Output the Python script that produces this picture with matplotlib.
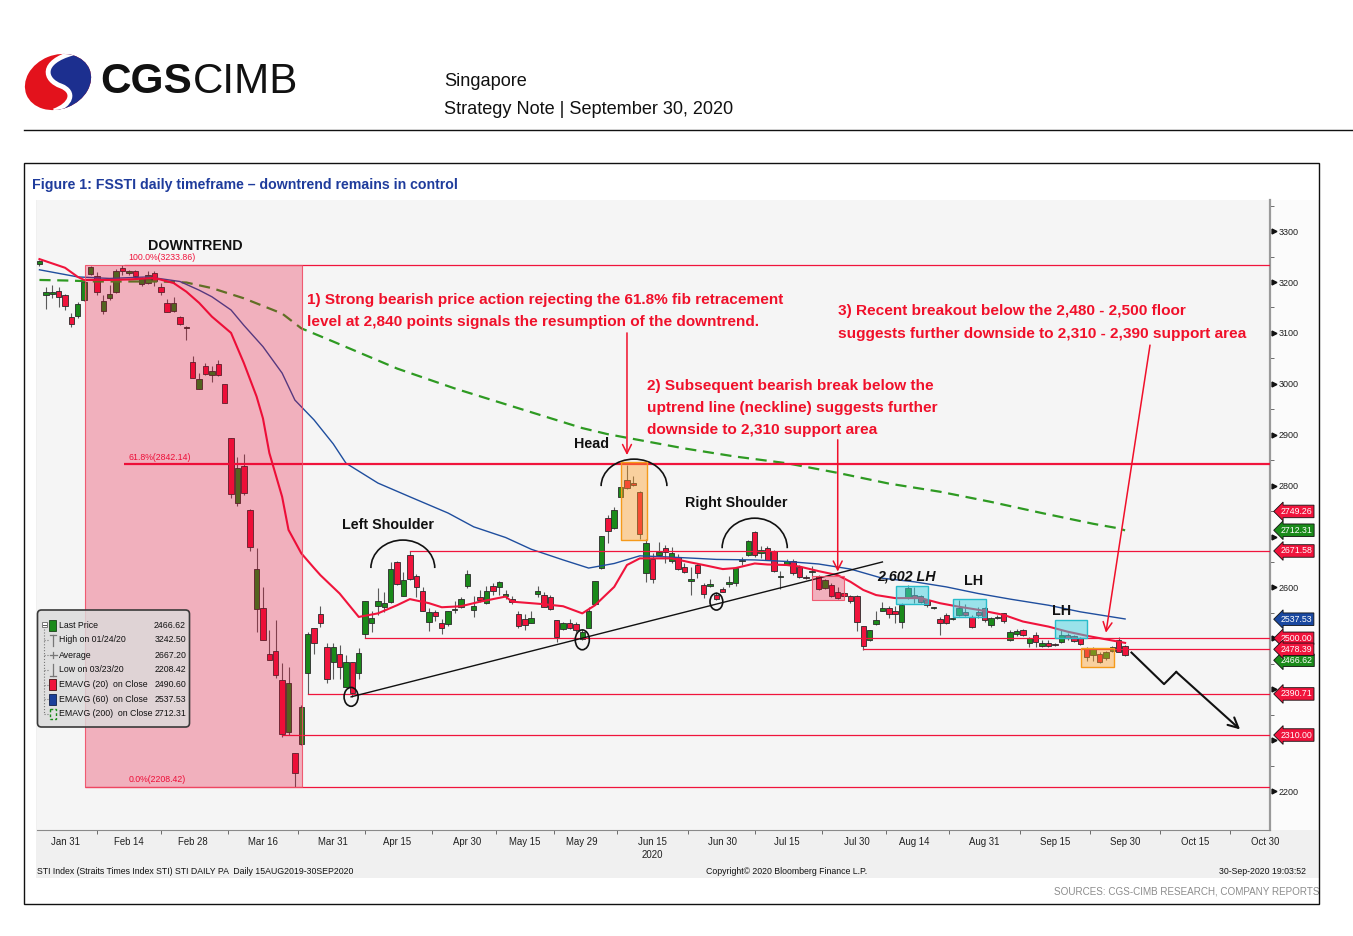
import numpy as np
import pandas as pd
import matplotlib
matplotlib.use("Agg")
import matplotlib.pyplot as plt
from matplotlib import font_manager as fm
from matplotlib.patches import Rectangle, Ellipse, Arc, FancyBboxPatch, PathPatch
from matplotlib.path import Path
from matplotlib.lines import Line2D
from matplotlib.transforms import Affine2D

W, H = 1353, 936

# SGX trading days 2020 (exchange holidays taken out)
holidays = ["2020-01-27", "2020-04-10", "2020-05-01", "2020-05-07",
            "2020-05-25", "2020-07-10", "2020-07-31", "2020-08-10"]
days = pd.bdate_range("2020-01-20", "2020-10-30")
days = days[~days.isin(pd.to_datetime(holidays))]

first_day = "01-24"   # first candle on screen, last one is 09-30

opens = [
    3236, 3174, 3177, 3182, 3174, 3131, 3133, 3165, 3215, 3212,
    3143, 3168, 3181, 3228, 3217, 3222, 3197, 3199, 3217, 3190,
    3159, 3144, 3132, 3110, 3042, 2989, 3034, 3017, 3038, 2999,
    2893, 2765, 2839, 2752, 2558, 2559, 2470, 2475, 2418, 2315,
    2274, 2292, 2431, 2520, 2548, 2482, 2454, 2469, 2405, 2453,
    2432, 2508, 2530, 2564, 2562, 2572, 2650, 2583, 2664, 2623,
    2593, 2533, 2551, 2531, 2528, 2555, 2561, 2602, 2556, 2582,
    2569, 2603, 2601, 2583, 2578, 2547, 2537, 2530, 2588, 2585,
    2582, 2536, 2518, 2530, 2528, 2498, 2520, 2567, 2638, 2736,
    2716, 2777, 2811, 2806, 2788, 2629, 2655, 2664, 2678, 2652,
    2659, 2641, 2612, 2645, 2605, 2603, 2585, 2596, 2606, 2608,
    2651, 2664, 2708, 2667, 2677, 2672, 2620, 2645, 2651, 2641,
    2621, 2630, 2622, 2598, 2605, 2591, 2589, 2583, 2583, 2524,
    2497, 2529, 2553, 2559, 2553, 2533, 2579, 2585, 2583, 2575,
    2559, 2537, 2545, 2538, 2546, 2551, 2541, 2551, 2559, 2526,
    2540, 2549, 2497, 2508, 2516, 2490, 2506, 2484, 2490, 2488,
    2493, 2506, 2504, 2500, 2479, 2467, 2469, 2461, 2476, 2497, 2484,
]
highs = [
    3243, 3191, 3195, 3190, 3176, 3139, 3161, 3201, 3232, 3220,
    3174, 3195, 3226, 3233, 3224, 3224, 3209, 3222, 3222, 3199,
    3166, 3171, 3134, 3113, 3054, 3021, 3040, 3034, 3046, 2999,
    2893, 2857, 2863, 2755, 2677, 2600, 2517, 2535, 2451, 2443,
    2274, 2368, 2513, 2520, 2564, 2490, 2490, 2486, 2467, 2453,
    2480, 2573, 2553, 2599, 2590, 2650, 2652, 2630, 2672, 2626,
    2600, 2559, 2555, 2537, 2553, 2574, 2581, 2634, 2583, 2594,
    2603, 2608, 2613, 2595, 2584, 2553, 2548, 2553, 2602, 2590,
    2585, 2536, 2533, 2537, 2533, 2518, 2562, 2613, 2701, 2742,
    2758, 2798, 2840, 2818, 2790, 2695, 2668, 2690, 2683, 2680,
    2665, 2648, 2641, 2647, 2608, 2617, 2590, 2601, 2622, 2641,
    2660, 2694, 2710, 2681, 2681, 2674, 2632, 2656, 2656, 2645,
    2624, 2643, 2624, 2616, 2608, 2601, 2590, 2585, 2585, 2524,
    2516, 2554, 2572, 2563, 2563, 2569, 2605, 2601, 2586, 2578,
    2561, 2542, 2549, 2541, 2575, 2567, 2545, 2562, 2562, 2542,
    2545, 2550, 2516, 2518, 2519, 2502, 2513, 2496, 2496, 2490,
    2519, 2510, 2506, 2503, 2482, 2482, 2474, 2476, 2484, 2503, 2487,
]
lows = [
    3232, 3146, 3168, 3150, 3145, 3112, 3130, 3163, 3213, 3174,
    3137, 3165, 3178, 3213, 3214, 3208, 3192, 3197, 3193, 3174,
    3142, 3142, 3116, 3086, 3011, 2989, 3018, 3004, 3016, 2962,
    2776, 2759, 2782, 2672, 2513, 2497, 2457, 2422, 2307, 2310,
    2208, 2290, 2391, 2470, 2523, 2413, 2420, 2420, 2404, 2385,
    2420, 2500, 2513, 2546, 2552, 2570, 2605, 2583, 2615, 2582,
    2553, 2514, 2534, 2508, 2524, 2549, 2559, 2598, 2542, 2572,
    2567, 2586, 2586, 2578, 2568, 2521, 2516, 2530, 2582, 2562,
    2555, 2493, 2516, 2518, 2512, 2496, 2520, 2565, 2636, 2687,
    2714, 2777, 2793, 2799, 2695, 2611, 2609, 2663, 2647, 2647,
    2635, 2628, 2585, 2618, 2579, 2601, 2575, 2590, 2601, 2603,
    2645, 2662, 2660, 2658, 2654, 2630, 2597, 2644, 2625, 2618,
    2616, 2622, 2594, 2597, 2582, 2578, 2582, 2569, 2515, 2478,
    2494, 2526, 2553, 2540, 2530, 2520, 2577, 2569, 2569, 2562,
    2557, 2507, 2528, 2536, 2543, 2543, 2520, 2540, 2533, 2522,
    2537, 2531, 2495, 2504, 2504, 2482, 2482, 2482, 2483, 2484,
    2490, 2497, 2493, 2487, 2455, 2455, 2451, 2458, 2474, 2473, 2466,
]
closes = [
    3241, 3180, 3180, 3171, 3153, 3117, 3157, 3200, 3230, 3180,
    3163, 3176, 3222, 3222, 3222, 3212, 3207, 3214, 3201, 3180,
    3142, 3158, 3117, 3112, 3011, 3009, 3019, 3025, 3017, 2962,
    2784, 2834, 2785, 2679, 2636, 2497, 2457, 2427, 2312, 2413,
    2236, 2365, 2508, 2490, 2531, 2420, 2482, 2443, 2454, 2392,
    2472, 2573, 2540, 2573, 2570, 2636, 2606, 2615, 2616, 2600,
    2554, 2551, 2543, 2520, 2553, 2557, 2577, 2626, 2564, 2575,
    2593, 2593, 2611, 2588, 2572, 2524, 2526, 2539, 2592, 2562,
    2557, 2503, 2531, 2520, 2516, 2512, 2554, 2613, 2701, 2710,
    2752, 2798, 2796, 2801, 2705, 2688, 2616, 2670, 2670, 2667,
    2636, 2631, 2616, 2629, 2588, 2606, 2577, 2591, 2611, 2638,
    2654, 2691, 2664, 2673, 2654, 2632, 2622, 2651, 2628, 2621,
    2619, 2632, 2596, 2615, 2583, 2579, 2583, 2574, 2533, 2485,
    2516, 2536, 2560, 2547, 2547, 2566, 2598, 2579, 2572, 2566,
    2561, 2531, 2530, 2540, 2559, 2546, 2522, 2546, 2536, 2539,
    2542, 2534, 2513, 2515, 2506, 2500, 2492, 2490, 2485, 2486,
    2506, 2500, 2495, 2489, 2464, 2480, 2453, 2474, 2482, 2474, 2467,
]

# moving averages
ema20_dates = ["01-24", "01-31", "02-04", "02-05", "02-11", "02-14", "02-20", "02-25", "02-27", "03-02",
               "03-04", "03-09", "03-11", "03-13", "03-16", "03-17", "03-19", "03-20", "03-24", "03-26",
               "03-27", "04-01", "04-06", "04-09", "04-15", "04-17", "04-22", "04-24", "04-29", "05-05",
               "05-12", "05-13", "05-20", "05-26", "05-29", "06-02", "06-05", "06-09", "06-11", "06-15",
               "06-18", "06-23", "06-25", "06-30", "07-02", "07-07", "07-09", "07-15", "07-17", "07-22",
               "07-27", "07-29", "08-03", "08-05", "08-11", "08-17", "08-20", "08-25", "08-28", "09-03",
               "09-08", "09-14", "09-17", "09-22", "09-25", "09-30"]
ema20_vals = [3245, 3228, 3210, 3204, 3204, 3205, 3208, 3198, 3181, 3159,
              3132, 3100, 3041, 2975, 2932, 2864, 2778, 2713, 2667, 2638,
              2624, 2588, 2542, 2549, 2565, 2577, 2569, 2561, 2563, 2572,
              2582, 2572, 2567, 2563, 2549, 2565, 2601, 2644, 2657, 2657,
              2657, 2649, 2644, 2636, 2638, 2647, 2645, 2644, 2641, 2632,
              2624, 2611, 2595, 2585, 2579, 2579, 2569, 2562, 2556, 2546,
              2533, 2523, 2513, 2505, 2498, 2491]
ema60_dates = ["01-24", "02-04", "02-11", "02-19", "02-26", "03-02", "03-04", "03-09", "03-11", "03-16",
               "03-19", "03-23", "03-26", "03-31", "04-02", "04-09", "04-17", "04-27", "05-04", "05-12",
               "05-18", "05-26", "06-01", "06-05", "06-11", "06-17", "06-24", "06-29", "07-07", "07-15",
               "07-22", "07-29", "08-06", "08-14", "08-21", "08-28", "09-04", "09-14", "09-21", "09-28",
               "09-30"]
ema60_vals = [3224, 3210, 3207, 3210, 3201, 3184, 3171, 3145, 3115, 3073,
              3021, 2968, 2929, 2882, 2844, 2805, 2778, 2746, 2719, 2698,
              2675, 2654, 2638, 2647, 2662, 2660, 2657, 2655, 2654, 2651,
              2646, 2636, 2618, 2611, 2601, 2588, 2577, 2565, 2552, 2542,
              2538]
ema200_dates = ["01-24", "01-31", "02-07", "02-14", "02-21", "02-27", "03-04", "03-11", "03-19", "03-24",
                "03-31", "04-15", "04-28", "05-14", "05-29", "06-04", "06-22", "07-02", "07-15", "07-27",
                "08-07", "08-20", "09-01", "09-11", "09-23", "09-29", "09-30"]
ema200_vals = [3204, 3203, 3201, 3201, 3201, 3199, 3188, 3168, 3138, 3109,
               3083, 3030, 2991, 2952, 2913, 2901, 2873, 2857, 2844, 2825,
               2804, 2788, 2768, 2746, 2725, 2716, 2712]

xtick_dates = ["01-31", "02-14", "02-28", "03-16", "03-31", "04-15", "04-30", "05-15", "05-29", "06-15",
               "06-30", "07-15", "07-30", "08-14", "08-31", "09-15", "09-30", "10-15", "10-30"]
xtick_labels = ["Jan 31", "Feb 14", "Feb 28", "Mar 16", "Mar 31", "Apr 15", "Apr 30", "May 15", "May 29", "Jun 15",
                "Jun 30", "Jul 15", "Jul 30", "Aug 14", "Aug 31", "Sep 15", "Sep 30", "Oct 15", "Oct 30"]
yticks = list(range(2200, 3301, 100))
yticks_hidden = [2300, 2400, 2500, 2700]   # sit under the price tags

fib_levels = [3233.86, 2842.14, 2208.42]
fib_names = ["100.0%", "61.8%", "0.0%"]
support_levels = [2671.58, 2500.00, 2478.39, 2390.71, 2310.00]
support_from = ["04-17", "04-07", "08-03", "03-25", "03-19"]

tag_values = [2749.26, 2712.31, 2671.58, 2537.53, 2466.62, 2500.00, 2478.39, 2390.71, 2310.00]
tag_kinds = ["red", "green", "red", "blue", "green", "red", "red", "red", "red"]
tag_nudge = {2466.62: -9.8}   # pushed down a little so it clears the 2478.39 tag

legend_labels = ["Last Price", "High on 01/24/20", "Average", "Low on 03/23/20",
                 "EMAVG (20)  on Close", "EMAVG (60)  on Close", "EMAVG (200)  on Close"]
legend_values = ["2466.62", "3242.50", "2667.20", "2208.42", "2490.60", "2537.53", "2712.31"]

# ---------------------------------------------------------------
GREEN = "#1a8a1a"
RED = "#f0143c"
BLUE = "#1f4e9e"
TXTRED = "#f0102a"
tag_color = {"red": RED, "green": GREEN, "blue": "#1a48a0"}

names = {f.name for f in fm.fontManager.ttflist}
FAM = "Liberation Sans Narrow" if "Liberation Sans Narrow" in names else (
    "Liberation Sans" if "Liberation Sans" in names else "DejaVu Sans")
plt.rcParams["font.family"] = FAM


def pos(md):
    return days.get_loc(pd.Timestamp("2020-" + md))


fig = plt.figure(figsize=(W / 100, H / 100), dpi=100)
T = Affine2D().scale(1 / W, -1 / H).translate(0, 1) + fig.transFigure  # pixel coords, y down
renderer = fig.canvas.get_renderer()


def fsize(s, target_px, **kw):
    # font size that makes s about target_px wide
    t = fig.text(0, 0, s, fontsize=10, **kw)
    w = t.get_window_extent(renderer).width
    t.remove()
    return 10 * target_px / w


def fig_rect(x0, y0, x1, y1, **kw):
    p = Rectangle((x0, y0), x1 - x0, y1 - y0, transform=T, **kw)
    fig.add_artist(p)
    return p


def fig_line(xs, ys, **kw):
    fig.add_artist(Line2D(xs, ys, transform=T, **kw))


fs_red = fsize("1) Strong bearish price action rejecting the 61.8% fib retracement", 478, fontweight="bold")
fs_lbl = fsize("Left Shoulder", 92, fontweight="bold")
fs_title = fsize("Figure 1: FSSTI daily timeframe \u2013 downtrend remains in control", 425, fontweight="bold")
fs_leg = fsize("EMAVG (200)  on Close", 94)
fs_foot = fsize("STI Index (Straits Times Index STI) STI DAILY PA  Daily 15AUG2019-30SEP2020", 318)
fs_src = fsize("SOURCES: CGS-CIMB RESEARCH, COMPANY REPORTS", 267)
fs_fib = fsize("100.0%(3233.86)", 67)
fs_xt = fsize("Jan 31", 29)
fs_yt = fsize("3300", 20)
fs_tag = fsize("2749.26", 32)
fs_hdr = fsize("Strategy Note | September 30, 2020", 292, family="Liberation Sans")
fs_cgs = fsize("CGS", 92, family="Liberation Sans", fontweight="heavy")
fs_cimb = fsize("CIMB", 105, family="Liberation Sans")

# bloomberg panel background
fig_rect(36, 200, 1320, 878, fc="#f0f0f0", ec="none", zorder=-2)
fig_rect(1271, 200, 1318, 830, fc="#fbfbfb", ec="none", zorder=-1)

ax = fig.add_axes([37 / W, 1 - 830 / H, 1233 / W, 630 / H])
ax.set_facecolor("#f5f5f5")

# candles
start = pos(first_day)
x = np.arange(len(opens)) + start
o, hi, lo, c = map(np.asarray, (opens, highs, lows, closes))
cols = np.where(c >= o, GREEN, RED)
ax.vlines(x, lo, hi, color="#5a5a5a", lw=0.8, zorder=2)
ax.bar(x, np.maximum(np.abs(c - o), 1.2), bottom=np.minimum(o, c), width=0.85,
       color=cols, edgecolor="#2a2a2a", linewidth=0.6, zorder=3)

# moving averages
ax.plot([pos(d) for d in ema200_dates], ema200_vals, color="#2e9a22", lw=1.6,
        dashes=(5, 3), zorder=4)
ax.plot([pos(d) for d in ema60_dates], ema60_vals, color=BLUE, lw=1.0, zorder=4)
ax.plot([pos(d) for d in ema20_dates], ema20_vals, color=RED, lw=1.5, zorder=4)

XR = 196.69
# horizontal levels
for lvl, nm in zip(fib_levels, fib_names):
    ax.plot([17.2 if nm != "0.0%" else 11.1, XR], [lvl, lvl], color=RED,
            lw=1.6 if nm == "61.8%" else 0.9, zorder=4, solid_capstyle="butt")
    ax.text(17.9, lvl + 5, f"{nm}({lvl:.2f})", color=RED, fontsize=fs_fib,
            ha="left", va="bottom")
for lvl, d in zip(support_levels, support_from):
    ax.plot([pos(d), XR], [lvl, lvl], color=RED, lw=0.9, zorder=4)

# trend line + markers
ax.plot([52.8, 136.0], [2385, 2650], color="#111111", lw=1.0, zorder=5)
for cx, cy, w, h in [(52.8, 2385, 2.2, 37), (89.0, 2497, 2.2, 39), (110.0, 2572, 2.0, 33)]:
    ax.add_patch(Ellipse((cx, cy), w, h, fc="none", ec="#111111", lw=1.2, zorder=6))
for cx, cy, w, h in [(60.9, 2638, 10.0, 110), (97.1, 2799, 10.3, 106), (116.0, 2677, 10.2, 118)]:
    ax.add_patch(Arc((cx, cy), w, h, theta1=0, theta2=180, color="#111111", lw=1.2, zorder=6))

# highlight boxes
pink = dict(fc=(0.91, 0.0, 0.18, 0.28), ec=(0.94, 0.3, 0.4, 0.9), lw=0.8, zorder=7)
ax.add_patch(Rectangle((11.1, 2208.42), 45.05 - 11.1, 3233.86 - 2208.42, **pink))
ax.add_patch(Rectangle((125.0, 2575), 5.0, 47, **pink))
for x0, x1, y0, y1 in [(95.0, 99.1, 2693, 2847), (167.1, 172.2, 2443, 2480)]:
    ax.add_patch(Rectangle((x0, y0), x1 - x0, y1 - y0, fc=(1.0, 0.62, 0.15, 0.42),
                           ec="#f59a1a", lw=1.0, zorder=7))
for x0, x1, y0, y1 in [(138.1, 143.1, 2567, 2603), (147.1, 152.2, 2542, 2577), (163.1, 168.1, 2501, 2536)]:
    ax.add_patch(Rectangle((x0, y0), x1 - x0, y1 - y0, fc=(0.25, 0.82, 0.88, 0.5),
                           ec="#28bccb", lw=1.0, zorder=7))

# arrows
red_arrow = dict(arrowstyle="->", color=TXTRED, lw=1.1, mutation_scale=16, shrinkA=0, shrinkB=0)
ax.annotate("", xy=(96.0, 2860), xytext=(96.0, 3100), arrowprops=red_arrow, zorder=8)
ax.annotate("", xy=(129.0, 2631), xytext=(129.0, 2890), arrowprops=red_arrow, zorder=8)
ax.annotate("", xy=(171.0, 2511), xytext=(177.9, 3076), arrowprops=red_arrow, zorder=8)
ax.plot([175.0, 180.1, 182.0], [2472, 2410, 2434], color="#111111", lw=1.5, zorder=8)
ax.annotate("", xy=(192.0, 2321), xytext=(182.0, 2434),
            arrowprops=dict(arrowstyle="->", color="#111111", lw=1.5, mutation_scale=18,
                            shrinkA=0, shrinkB=0), zorder=8)

# annotation texts
bold_red = dict(color=TXTRED, fontsize=fs_red, fontweight="bold", ha="left", va="center", zorder=9)
ax.text(45.9, 3164.6, "1) Strong bearish price action rejecting the 61.8% fib retracement", **bold_red)
ax.text(45.9, 3121.4, "level at 2,840 points signals the resumption of the downtrend.", **bold_red)
ax.text(99.1, 2995.7, "2) Subsequent bearish break below the", **bold_red)
ax.text(99.1, 2952.5, "uptrend line (neckline) suggests further", **bold_red)
ax.text(99.1, 2909.2, "downside to 2,310 support area", **bold_red)
ax.text(129.0, 3143.0, "3) Recent breakout below the 2,480 - 2,500 floor", **bold_red)
ax.text(129.0, 3097.8, "suggests further downside to 2,310 - 2,390 support area", **bold_red)

bold_blk = dict(color="#111111", fontsize=fs_lbl, fontweight="bold", ha="center", va="center", zorder=9)
ax.text(28.4, 3270.7, "DOWNTREND", **bold_blk)
ax.text(90.4, 2881.7, "Head", **bold_blk)
ax.text(58.6, 2722.6, "Left Shoulder", **bold_blk)
ax.text(113.1, 2765.8, "Right Shoulder", **bold_blk)
ax.text(139.7, 2622.4, "2,602 LH", fontstyle="italic", **bold_blk)
ax.text(150.2, 2612.6, "LH", **bold_blk)
ax.text(164.1, 2553.6, "LH", **bold_blk)

# axes styling
for s in ("top", "left"):
    ax.spines[s].set_visible(False)
ax.spines["right"].set_color("#9a9a9a")
ax.spines["right"].set_linewidth(1.6)
ax.spines["bottom"].set_color("#8a8a8a")
ax.yaxis.tick_right()
ax.set_yticks(yticks)
ax.set_yticklabels(["" if v in yticks_hidden else str(v) for v in yticks])
ax.set_yticks([v + 50 for v in yticks[:-1]] + [3350], minor=True)
ax.tick_params(axis="y", which="major", length=0, pad=6, labelsize=fs_yt, labelcolor="#202020")
ax.tick_params(axis="y", which="minor", length=3, color="#555555")
ax.plot(np.full(len(yticks), 1.003), yticks, ls="none", marker=">", ms=3.5, color="#111111",
        transform=ax.get_yaxis_transform(), clip_on=False, zorder=9)

xt = [pos(d) for d in xtick_dates]
ax.set_xticks(xt)
ax.set_xticklabels(xtick_labels)
ax.set_xticks([(a + b) / 2 for a, b in zip(xt[:-1], xt[1:])], minor=True)
ax.tick_params(axis="x", which="major", length=0, pad=5, labelsize=fs_xt, labelcolor="#202020")
ax.tick_params(axis="x", which="minor", length=3, color="#555555")
ax.text(pos("06-15"), -0.04, "2020", transform=ax.get_xaxis_transform(), ha="center",
        va="center", fontsize=fs_xt, color="#202020")
ax.set_xlim(3.615, XR)
ax.set_ylim(2123.4, 3361.1)

# price tags on the right axis
for v, k in zip(tag_values, tag_kinds):
    ax.text(1.0085, v + tag_nudge.get(v, 0), f"{v:.2f}", transform=ax.get_yaxis_transform(),
            ha="left", va="center", fontsize=fs_tag, color="white", clip_on=False, zorder=10,
            bbox=dict(boxstyle="larrow,pad=0.2", fc=tag_color[k], ec="#111111", lw=0.6))

# legend box
fig.add_artist(FancyBboxPatch((37.5, 610), 152, 117, boxstyle="round,pad=0,rounding_size=4",
                              transform=T, fc=(0.86, 0.86, 0.86, 0.82), ec="#3a3a3a", lw=1.2, zorder=2))
rows = [625, 640, 655, 670, 684.5, 699, 713.5]
fig_line([44, 44], [629, 713.5], color="#777777", lw=0.8, ls=":", zorder=3)
for ry in rows[1:]:
    fig_line([44, 47.5], [ry, ry], color="#777777", lw=0.8, ls=":", zorder=3)
fig_rect(41.5, 622, 46.5, 627, fc="white", ec="#777777", lw=0.7, zorder=3)
fig_line([42.5, 45.5], [624.5, 624.5], color="#555555", lw=0.7, zorder=4)
fig_rect(49, rows[0] - 5.5, 56, rows[0] + 5.5, fc=GREEN, ec="#1a401a", lw=0.6, zorder=3)
fig_line([50, 56], [634.5, 634.5], color="#777777", lw=0.9, zorder=3)
fig_line([53, 53], [634.5, 646], color="#777777", lw=0.9, zorder=3)
fig_line([49.5, 56.5], [655, 655], color="#777777", lw=0.9, zorder=3)
fig_line([53, 53], [652, 658], color="#777777", lw=0.9, zorder=3)
fig_line([53, 53], [664, 675.5], color="#777777", lw=0.9, zorder=3)
fig_line([50, 56], [675.5, 675.5], color="#777777", lw=0.9, zorder=3)
fig_rect(49, rows[4] - 5.5, 56, rows[4] + 5.5, fc=RED, ec="#401010", lw=0.6, zorder=3)
fig_rect(49, rows[5] - 5.5, 56, rows[5] + 5.5, fc="#1a3f9a", ec="#10204a", lw=0.6, zorder=3)
fig_rect(49.5, rows[6] - 5, 56, rows[6] + 5, fc="none", ec=GREEN, lw=1.0, ls=(0, (2, 1.5)), zorder=3)
for ry, lab, val in zip(rows, legend_labels, legend_values):
    fig.text(59, ry, lab, transform=T, fontsize=fs_leg, va="center", ha="left", color="#111111", zorder=4)
    fig.text(186, ry, val, transform=T, fontsize=fs_leg, va="center", ha="right", color="#111111", zorder=4)

# panel title, footer, frame
fig.text(32, 185, "Figure 1: FSSTI daily timeframe \u2013 downtrend remains in control", transform=T,
         fontsize=fs_title, fontweight="bold", color="#1f3c9c", va="center", ha="left")
fig.text(37, 871, "STI Index (Straits Times Index STI) STI DAILY PA  Daily 15AUG2019-30SEP2020",
         transform=T, fontsize=fs_foot, va="center", color="#111111")
fig.text(706, 871, "Copyright\u00a9 2020 Bloomberg Finance L.P.", transform=T, fontsize=fs_foot,
         va="center", color="#111111")
fig.text(1306, 871, "30-Sep-2020 19:03:52", transform=T, fontsize=fs_foot, va="center", ha="right",
         color="#111111")
fig.text(1319, 891, "SOURCES: CGS-CIMB RESEARCH, COMPANY REPORTS", transform=T, fontsize=fs_src,
         va="center", ha="right", color="#8c8c8c")
fig_rect(24, 163, 1319, 904, fc="none", ec="#111111", lw=1.0, zorder=5)

# page header
fig_line([24, 1353], [130, 130], color="#111111", lw=1.0)
logo = Ellipse((58, 82), 68, 54, angle=-22, transform=T, fc="#e3121c", ec="none")
fig.add_artist(logo)
s_verts = [(73, 53), (40, 62), (44, 80), (61, 86), (76, 92), (71, 105), (54, 111)]
s_codes = [Path.MOVETO] + [Path.CURVE4] * 6
blue_part = PathPatch(Path(s_verts + [(110, 118), (110, 40), (73, 53)],
                           s_codes + [Path.LINETO, Path.LINETO, Path.CLOSEPOLY]),
                      transform=T, fc="#1c2f8f", ec="none")
fig.add_artist(blue_part)
blue_part.set_clip_path(logo)
s_line = PathPatch(Path(s_verts, s_codes), transform=T, fc="none", ec="white", lw=3.5)
fig.add_artist(s_line)
s_line.set_clip_path(logo)
fig.text(100, 82, "CGS", transform=T, fontsize=fs_cgs, fontweight="heavy", family="Liberation Sans",
         va="center", ha="left", color="#111111")
fig.text(193, 82, "CIMB", transform=T, fontsize=fs_cimb, family="Liberation Sans",
         va="center", ha="left", color="#111111")
fig.text(444, 82, "Singapore", transform=T, fontsize=fs_hdr, family="Liberation Sans",
         va="center", ha="left", color="#111111")
fig.text(444, 109, "Strategy Note | September 30, 2020", transform=T, fontsize=fs_hdr,
         family="Liberation Sans", va="center", ha="left", color="#111111")

fig.savefig("out.png", dpi=100, facecolor="white")
